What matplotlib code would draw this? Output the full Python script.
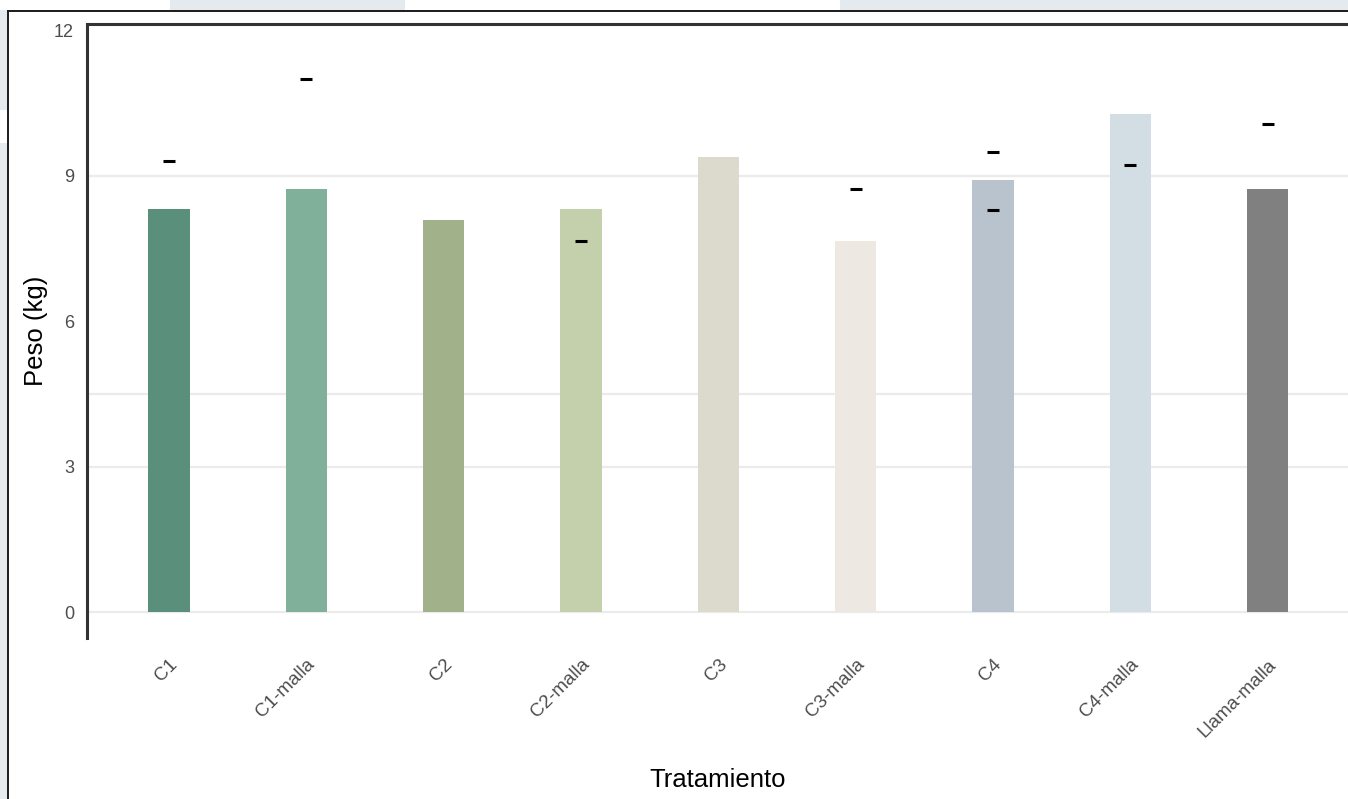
import matplotlib
matplotlib.use("Agg")
import matplotlib.pyplot as plt
from matplotlib.lines import Line2D
from matplotlib.patches import Rectangle

plt.rcParams['font.family'] = ['Liberation Sans', 'DejaVu Sans']

# ---- data ----
categories = ["C1", "C1-malla", "C2", "C2-malla", "C3", "C3-malla",
              "C4", "C4-malla", "Llama-malla"]
peso = [8.31, 8.72, 8.09, 8.31, 9.39, 7.65, 8.91, 10.27, 8.72]
bar_colors = ["#5a8f7b", "#80af9a", "#a1b28a", "#c4d0ab", "#dcdacd",
              "#ede9e2", "#b8c3ce", "#d3dee4", "#808080"]
# short black marks (individual observations)
mark_cat = ["C1", "C1-malla", "C2-malla", "C3-malla", "C4", "C4",
            "C4-malla", "Llama-malla"]
mark_val = [9.30, 11.0, 7.65, 8.72, 9.49, 8.29, 9.23, 10.06]
ytick_vals = [0, 3, 6, 9, 12]
ytick_marks = [0, 3, 9]
grid_vals = [0, 3, 4.5, 9]

W, H = 1348, 799
fig = plt.figure(figsize=(W / 100, H / 100), dpi=100)
fig.patch.set_facecolor("white")

# light background stripes outside the frame
for (x0, y0, w, h) in [(170, 0, 235, 10), (840, 0, 508, 10),
                       (0, 10, 7, 100), (0, 143, 7, 656)]:
    fig.add_artist(Rectangle((x0 / W, 1 - (y0 + h) / H), w / W, h / H,
                             transform=fig.transFigure, color="#e5eaee",
                             lw=0, zorder=0))
# outer frame lines
fig.add_artist(Line2D([7.5 / W, 1], [1 - 10.5 / H, 1 - 10.5 / H],
                      transform=fig.transFigure, color="#1a1a1a", lw=1.4))
fig.add_artist(Line2D([7.5 / W, 7.5 / W], [0, 1 - 10.5 / H],
                      transform=fig.transFigure, color="#1a1a1a", lw=1.4))

left, right, top, bottom = 86.5, 1348, 23.5, 638
ax = fig.add_axes([left / W, 1 - bottom / H, (right - left) / W, (bottom - top) / H])
ax.set_facecolor("none")

x = list(range(1, len(categories) + 1))
pos = {c: i for c, i in zip(categories, x)}

for g in grid_vals:
    ax.axhline(g, color="#ebebeb", lw=1.6, zorder=0)

ax.bar(x, peso, width=0.3, color=bar_colors, zorder=2)
ax.plot([pos[c] for c in mark_cat], mark_val, linestyle="none", marker="_",
        markersize=8.6, markeredgewidth=2.2, color="black", zorder=3)

ax.set_xlim(0.4, 9.6 - (1350 - right) / 137.2)
ax.set_ylim(-0.53, 12.14)

ax.set_xticks(x)
ax.set_xticklabels(categories, rotation=45, ha="right", va="top",
                   rotation_mode="anchor", fontsize=13.5, color="#4d4d4d")
ax.tick_params(axis="x", length=0, pad=13)

ax.set_yticks(ytick_vals)
ax.set_yticklabels([str(v) for v in ytick_vals], fontsize=13, color="#4d4d4d")
ax.tick_params(axis="y", which="major", length=0, pad=9)
ax.set_yticks(ytick_marks, minor=True)
ax.tick_params(axis="y", which="minor", length=4.3, width=1.5, color="#333333")

for s in ["right", "bottom"]:
    ax.spines[s].set_visible(False)
for s in ["top", "left"]:
    ax.spines[s].set_color("#333333")
    ax.spines[s].set_linewidth(2.2)

ax.set_ylabel("Peso (kg)", fontsize=18.5, color="black", labelpad=4)
ax.set_xlabel("Tratamiento", fontsize=18.5, color="black", labelpad=20)

fig.savefig("out.png", dpi=100)
